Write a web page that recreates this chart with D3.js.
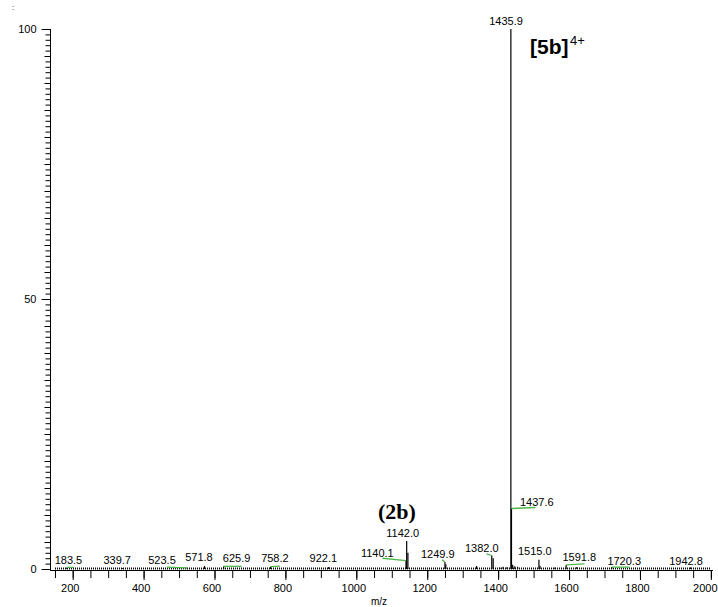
<!DOCTYPE html>
<html>
<head>
<meta charset="utf-8">
<script src="https://cdn.jsdelivr.net/npm/d3@7"></script>
<style>
  body { margin: 0; background: #fff; }
  text { font-family: "Liberation Sans", Arial, sans-serif; }
</style>
</head>
<body>
<svg id="chart" width="718" height="607"></svg>
<script>
// spectrum peaks (m/z, relative abundance)
const peakMz = [183.5, 339.7, 523.5, 571.8, 625.9, 758.2, 922.1, 1140.1, 1142.0, 1145.5,
  1249.9, 1252.5, 1339.0, 1382.0, 1386.0, 1405.0, 1414.0, 1425.0, 1435.9, 1437.6,
  1441.0, 1447.0, 1455.0, 1515.0, 1518.0, 1560.0, 1591.8, 1622.0, 1720.3, 1942.8];
const peakInt = [0.3, 0.2, 0.2, 0.55, 0.5, 0.45, 0.35, 1.55, 5.2, 3.0,
  1.3, 0.9, 0.55, 2.5, 2.0, 0.3, 0.4, 0.35, 100, 11.2,
  0.8, 0.5, 0.4, 1.7, 0.6, 0.3, 0.75, 0.35, 0.35, 0.3];

// labelled peaks
const labelMz = [183.5, 339.7, 523.5, 571.8, 625.9, 758.2, 922.1, 1140.1, 1142.0,
  1249.9, 1382.0, 1435.9, 1437.6, 1515.0, 1591.8, 1720.3, 1942.8];
// label nudges in px: [dx, dy, leader dx, leader dy] (leader null = none)
const labelNudge = [[1.6, -3.4, 6.5, 0], [-5, -4, null], [-25.4, -4, -20.7, -0.7],
  [-5.6, -5.3, null], [12.9, -4, 18, 0], [4.3, -4.5, 9.3, -0.5], [-5.4, -4.7, null],
  [-28.7, -3.7, -23.5, -2.4], [-4, -4, null], [-7.1, -4, -3, -2.3], [-10, -3.5, -5.3, -1.7],
  [-4.8, -4.3, null], [25.3, -2.6, 24, -1], [-4.1, -5, null], [13.1, -4.3, 18.3, -1],
  [12.5, -2.3, 17.7, 0], [-4.6, -2.8, null]];

const xTicks = d3.range(200, 2001, 200);
const xMinor = d3.range(150, 2001, 50);
const yTicks = [0, 50, 100];
const yMid = d3.range(0, 101, 5);
const yMinor = d3.range(0, 101, 1);

const svg = d3.select("#chart");
const leaderColor = "#4cb84c";

const x = d3.scaleLinear().domain([136, 2006]).range([50, 713]);
const y = d3.scaleLinear().domain([0, 100]).range([569, 29]);

function drawChart() {
  const y0 = y(0);

  // x axis: minor then major
  svg.append("g")
    .attr("transform", `translate(0, ${y0 + 1})`)
    .call(d3.axisBottom(x).tickValues(xMinor).tickSize(8).tickFormat(""))
    .call((g) => g.select(".domain").remove());
  const xg = svg.append("g")
    .attr("transform", `translate(0, ${y0 + 1})`)
    .call(d3.axisBottom(x).tickValues(xTicks).tickSize(10).tickPadding(4).tickFormat(d3.format("d")));
  xg.select(".domain").attr("d", `M${x(136)},0.5H${x(2006)}`);
  xg.selectAll("text").attr("dx", -3).style("font-size", "11px");
  // last label sits against the right edge
  xg.selectAll("text").filter((d) => d === 2000)
    .attr("text-anchor", "end").attr("dx", 0).attr("x", 717 - x(2000));

  // y axis: minor, mid, major
  svg.append("g")
    .attr("transform", "translate(50.5, 0)")
    .call(d3.axisLeft(y).tickValues(yMinor).tickSize(5).tickFormat(""))
    .call((g) => g.select(".domain").remove());
  svg.append("g")
    .attr("transform", "translate(50.5, 0)")
    .call(d3.axisLeft(y).tickValues(yMid).tickSize(6).tickFormat(""))
    .call((g) => g.select(".domain").remove());
  const yg = svg.append("g")
    .attr("transform", "translate(50.5, 0)")
    .call(d3.axisLeft(y).tickValues(yTicks).tickSize(9).tickPadding(5).tickFormat(d3.format("d")));
  yg.select(".domain").attr("d", `M0,${y(100)}V${y0 + 1.5}`);
  yg.selectAll("text").style("font-size", "11px");

  // baseline noise texture
  svg.append("line")
    .attr("x1", x(150)).attr("x2", x(2000))
    .attr("y1", y0 - 0.5).attr("y2", y0 - 0.5)
    .attr("stroke", "#000")
    .attr("stroke-width", 2)
    .attr("stroke-dasharray", "1 1");

  // peaks
  svg.append("g")
    .selectAll("line")
    .data(peakMz)
    .join("line")
    .attr("x1", (d) => x(d)).attr("x2", (d) => x(d))
    .attr("y1", y0)
    .attr("y2", (d, i) => y(peakInt[i]))
    .attr("stroke", "#000")
    .attr("stroke-width", 1.2);

  // peak labels + leaders
  const lab = svg.append("g");
  labelMz.forEach((mz, i) => {
    const px = x(mz);
    const py = y(peakInt[peakMz.indexOf(mz)]);
    const [dx, dy, ldx, ldy] = labelNudge[i];
    if (ldx !== null && ldx !== undefined) {
      lab.append("line")
        .attr("x1", px).attr("y1", py)
        .attr("x2", px + ldx).attr("y2", py + ldy)
        .attr("stroke", leaderColor)
        .attr("stroke-width", 1.3);
    }
    lab.append("text")
      .attr("x", px + dx)
      .attr("y", py + dy)
      .attr("text-anchor", "middle")
      .style("font-size", "11px")
      .text(mz.toFixed(1));
  });

  // axis title
  svg.append("text")
    .attr("x", 379)
    .attr("y", 605)
    .attr("text-anchor", "middle")
    .style("font-size", "10px")
    .text("m/z");

  svg.append("text")
    .attr("x", 12)
    .attr("y", 10)
    .style("font-size", "8px")
    .text(":");

  // species annotations
  svg.append("text")
    .attr("x", 530)
    .attr("y", 54)
    .style("font-size", "21px")
    .style("font-weight", "bold")
    .text("[5b]");
  svg.append("text")
    .attr("x", 570)
    .attr("y", 45)
    .style("font-size", "13px")
    .text("4+");

  svg.append("text")
    .attr("x", 397)
    .attr("y", 519)
    .attr("text-anchor", "middle")
    .style("font-family", "'Liberation Serif', 'Times New Roman', serif")
    .style("font-size", "22px")
    .style("font-weight", "bold")
    .text("(2b)");
}

drawChart();
</script>
</body>
</html>
